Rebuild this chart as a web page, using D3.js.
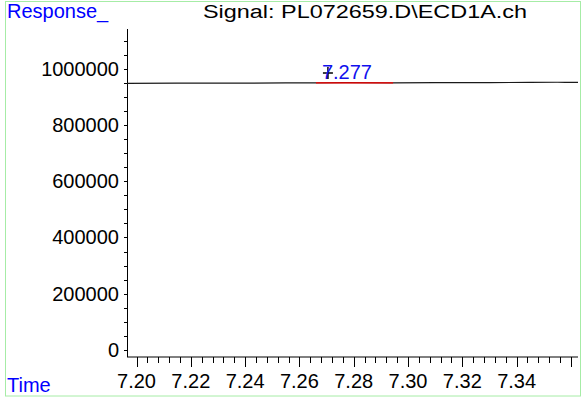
<!DOCTYPE html>
<html><head><meta charset="utf-8">
<script src="https://cdn.jsdelivr.net/npm/d3@7"></script>
<style>body{margin:0;background:#fff}svg{display:block}text{font-family:"Liberation Sans",Arial,sans-serif}</style>
</head><body>
<script>
const title = "Signal: PL072659.D\\ECD1A.ch";
const yLabel = "Response_";
const xLabel = "Time";
const times  = [7.1965, 7.215, 7.235, 7.255, 7.266, 7.277, 7.2945, 7.31, 7.33, 7.345, 7.355, 7.358, 7.3626];
const values = [948000, 948300, 948700, 949200, 949500, 950500, 949800, 950200, 950700, 951000, 951800, 951600, 951200];
const peakLabel = "7.277";
const peakMark = [7.2705, 985000];
const baseline = [[7.2661, 949500], [7.2945, 949800]];
const xTicks = [7.20, 7.22, 7.24, 7.26, 7.28, 7.30, 7.32, 7.34];
const yTicks = [0, 200000, 400000, 600000, 800000, 1000000];

const W = 582, H = 398;
const svg = d3.select("body").append("svg").attr("width", W).attr("height", H);
svg.append("rect").attr("x", 5.5).attr("y", 1.5).attr("width", 575).attr("height", 394.5)
  .attr("fill", "none").attr("stroke", "#a6eca6").attr("stroke-width", 1);

const x = d3.scaleLinear().domain([7.1965, 7.3626]).range([127, 578]);
const y = d3.scaleLinear().domain([0, 1141000]).range([350, 29]);
const axisY = 357;

// x axis
const gx = svg.append("g").attr("transform", `translate(0,${axisY})`);
gx.append("line").attr("x1", 127).attr("x2", 578).attr("stroke", "#000");
const minorX = d3.range(0, 41).map(i => 7.20 + i * 0.004).filter(v => v <= 7.3626);
gx.selectAll("line.mn").data(minorX).join("line").attr("class", "mn")
  .attr("x1", d => Math.round(x(d)) + 0.5).attr("x2", d => Math.round(x(d)) + 0.5)
  .attr("y1", 0).attr("y2", d => (Math.abs(((d - 7.20) / 0.02) - Math.round((d - 7.20) / 0.02)) < 1e-6) ? 10 : 6)
  .attr("stroke", "#000");
gx.selectAll("text").data(xTicks).join("text")
  .attr("x", d => x(d)).attr("y", 31).attr("text-anchor", "middle")
  .attr("font-size", 20).text(d => d.toFixed(2));

// y axis
const gy = svg.append("g");
gy.append("line").attr("x1", 127.5).attr("x2", 127.5).attr("y1", 29).attr("y2", axisY).attr("stroke", "#000");
const minorY = d3.range(0, 23).map(i => i * 50000);
gy.selectAll("line.mn").data(minorY).join("line").attr("class", "mn")
  .attr("x1", 124).attr("x2", 127.5)
  .attr("y1", d => Math.round(y(d)) + 0.5).attr("y2", d => Math.round(y(d)) + 0.5)
  .attr("stroke", "#000");
gy.selectAll("text").data(yTicks).join("text")
  .attr("x", 119).attr("y", d => y(d) + 7).attr("text-anchor", "end")
  .attr("font-size", 20).text(d => d);

// signal
const line = d3.line().x(d => x(d[0])).y(d => y(d[1]));
svg.append("path").datum(times.map((t, i) => [t, values[i]]))
  .attr("d", line).attr("fill", "none").attr("stroke", "#1a1a1a").attr("stroke-width", 1.2);
svg.append("path").datum(baseline).attr("d", line).attr("stroke", "#ff0000").attr("stroke-width", 1.3).attr("fill", "none");

// peak mark
const px = x(peakMark[0]), py = y(peakMark[1]);
svg.append("path").attr("d", `M${px - 5},${py}H${px + 5}M${px},${py - 6}V${py + 6}`).attr("stroke", "#000").attr("stroke-width", 1.5);
svg.append("text").attr("x", px - 6).attr("y", py + 6).attr("font-size", 20).attr("fill", "#1010ee").text(peakLabel);

// titles
svg.append("text").attr("x", 203).attr("y", 18).attr("font-size", 18)
  .attr("textLength", 324).attr("lengthAdjust", "spacingAndGlyphs").text(title);
svg.append("text").attr("x", 7).attr("y", 18).attr("font-size", 20).attr("fill", "#0000ff").text(yLabel);
svg.append("text").attr("x", 7).attr("y", 392).attr("font-size", 20).attr("fill", "#0000ff").text(xLabel);
</script>
</body></html>
